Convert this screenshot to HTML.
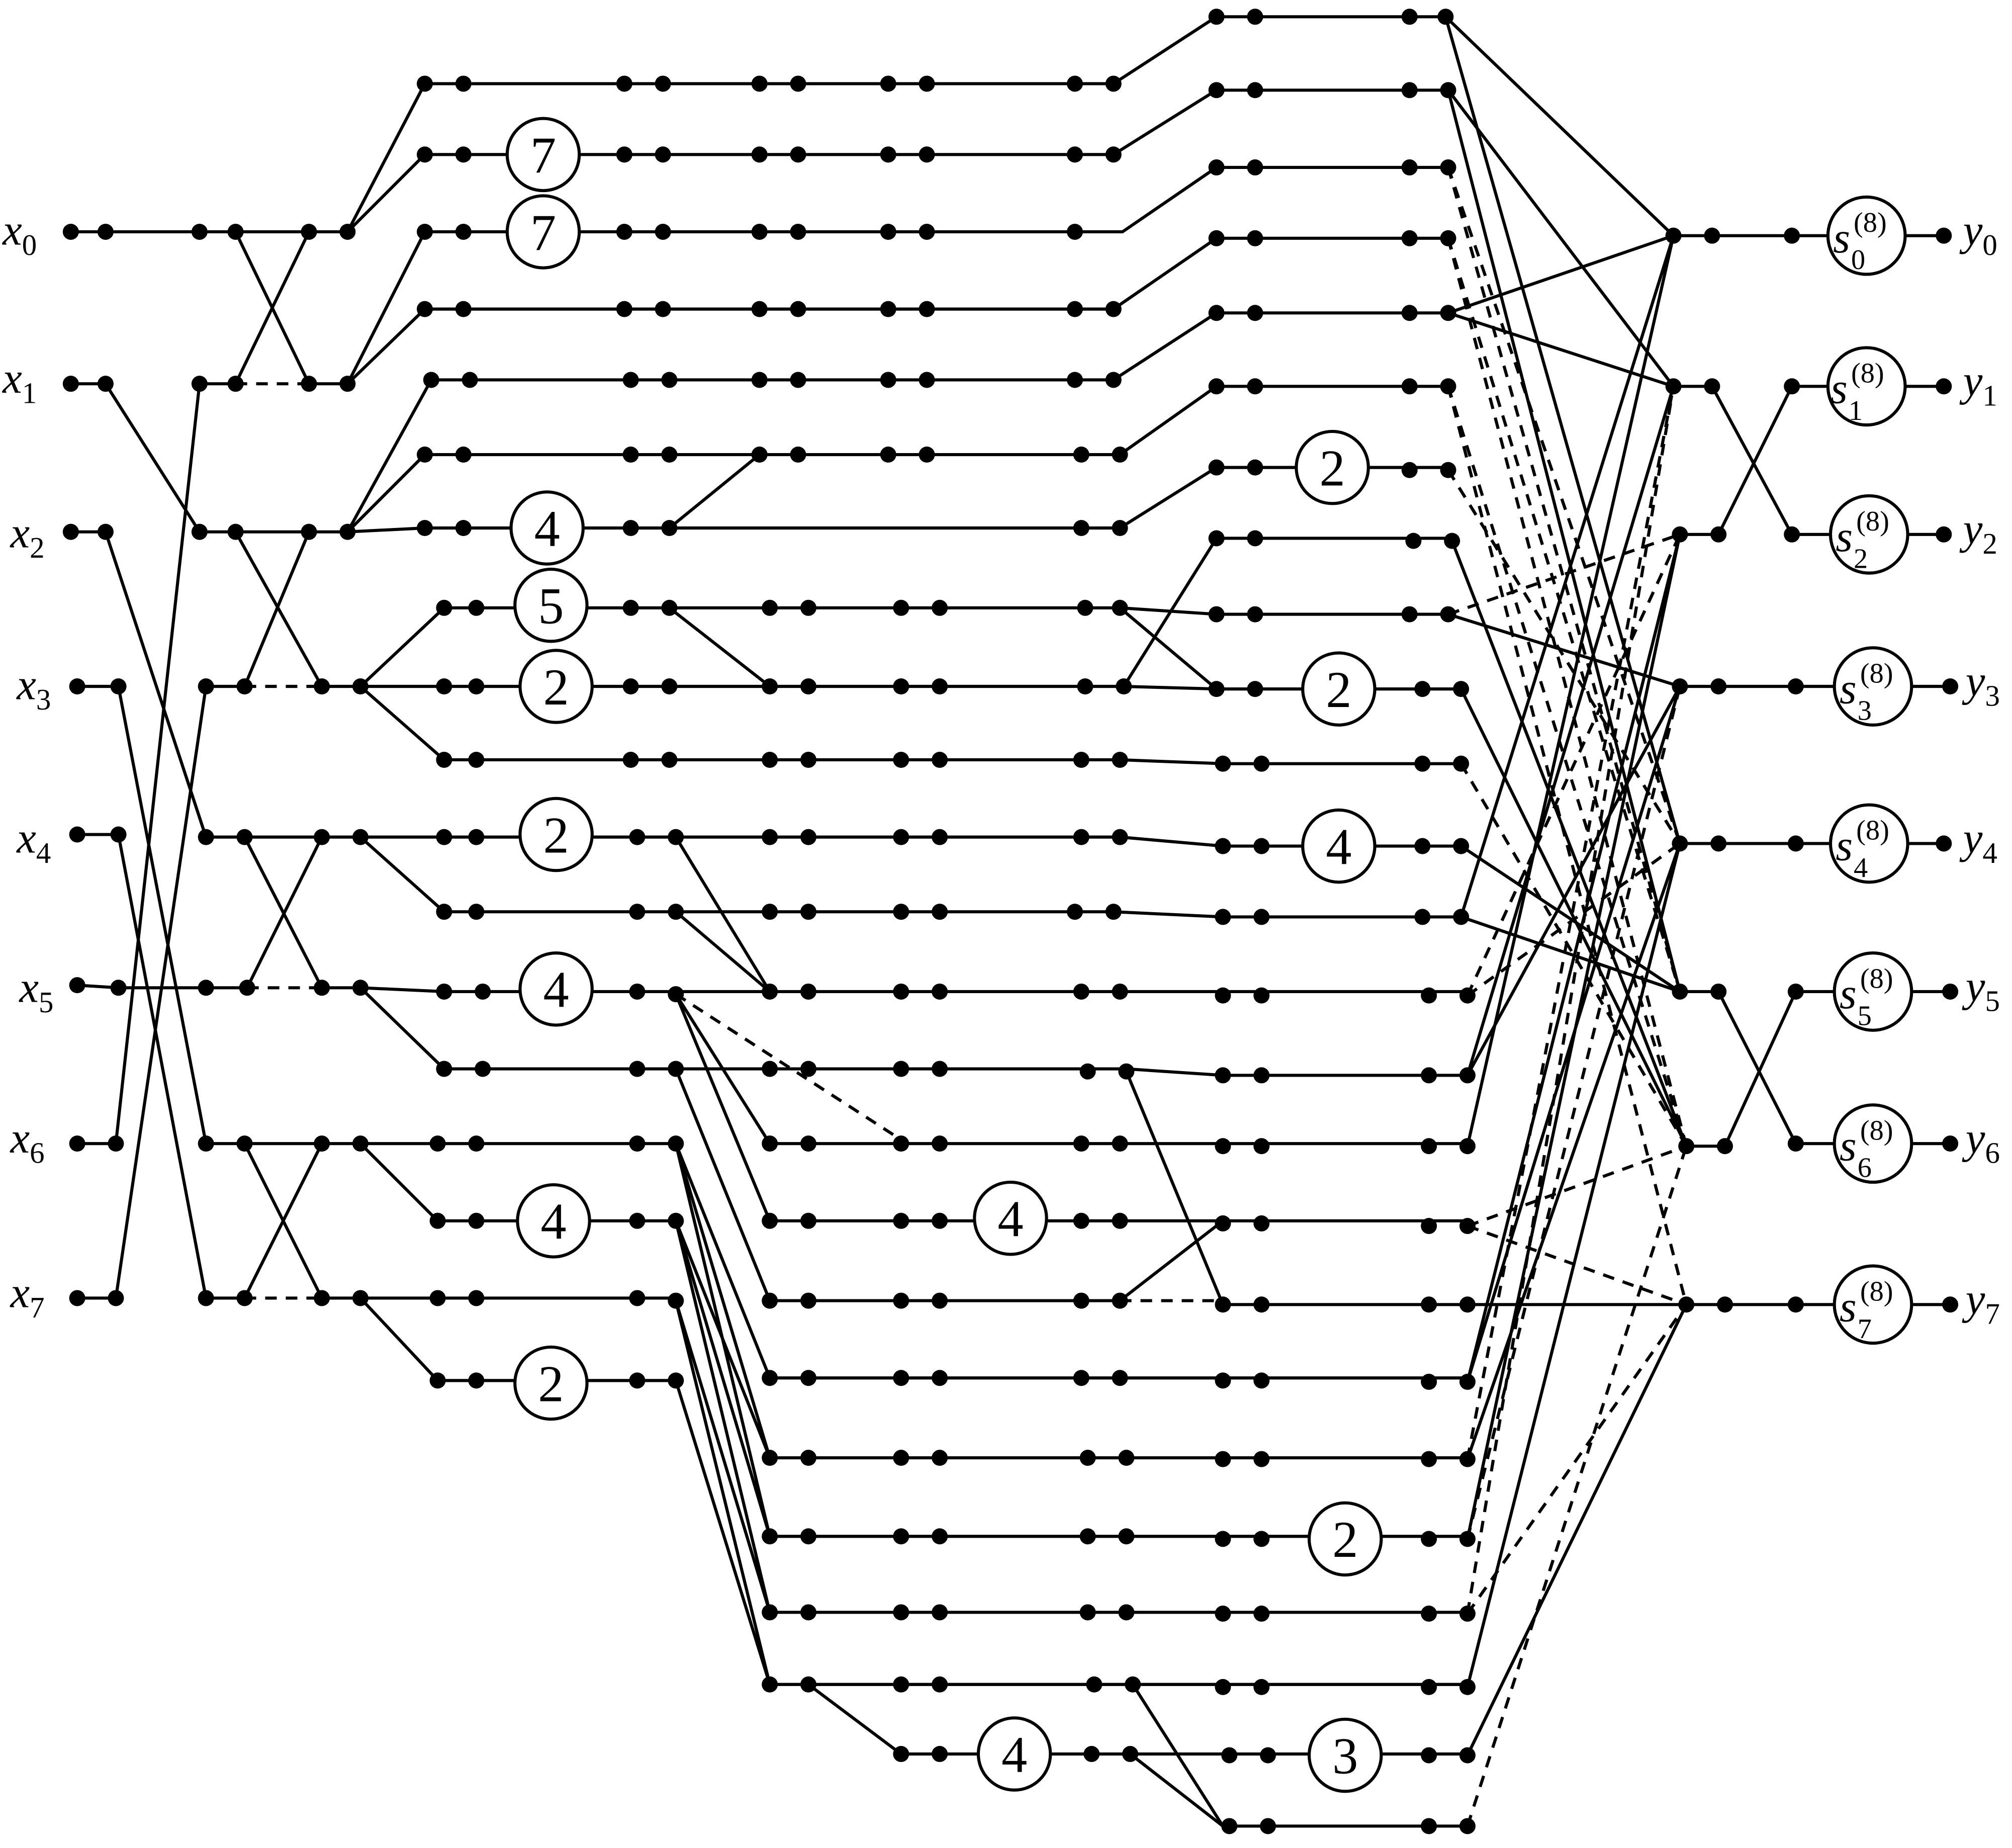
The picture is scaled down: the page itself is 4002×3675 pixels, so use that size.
<!DOCTYPE html>
<html><head><meta charset="utf-8"><style>html,body{margin:0;padding:0;background:#fff}svg{display:block}</style></head><body>
<svg xmlns="http://www.w3.org/2000/svg" width="4002" height="3675" viewBox="0 0 1563 1435" preserveAspectRatio="none">
<rect width="1563" height="1435" fill="#fff"/>
<g fill="none" stroke="#000" stroke-width="2.4">
<path d="M55 180H270M55 298H82L155 413M55 413H82L160 650M60 533H92L160 888M60 648H92L160 1008M60 765L92 767H192M60 888H90L155 298M60 1008H90L160 533"/>
<path d="M155 298H183M240 298H270M155 413H270M160 533H190M250 533H280M160 650H280M250 767H280M160 888H280M160 1008H190M250 1008H280"/>
<path d="M183 180L240 298M183 298L240 180M183 413L250 533M190 533L240 413M190 650L250 767M192 767L250 650M190 888L250 1008M190 1008L250 888"/>
<path d="M270 180L330 65M270 180L330 120M270 298L330 180M270 298L330 240M270 413L335 295M270 413L330 353M270 413L330 410M280 533L345 472M280 533L345 533M280 533L345 590M280 650L345 650M280 650L345 708M280 767L345 770M280 767L345 830M280 888L340 888M280 888L340 948M280 1008L340 1008M280 1008L340 1072"/>
<path d="M330 65H865L945 13H1123M330 120H865L945 70H1125M330 180H872L945 130H1125M330 240H865L945 185H1125M335 295H865L945 243H1125M330 353H870L945 300H1125M330 410H870L945 363H1125M520 410L590 353"/>
<path d="M345 472H870L945 477H1125M520 472L598 533M870 472L945 535M345 533H873L945 535H1135M873 533L945 418H1128M345 590H870L950 593H1135M345 650H870L950 657H1135M525 650L598 770M345 708H865L950 712H1135M525 708L598 770"/>
<path d="M345 770H1140M525 772L598 888M525 772L598 948M345 830H875L950 835H1140M525 830L598 1010M875 832L950 1013"/>
<path d="M340 888H525M340 948H525M340 1008H525M340 1072H525M598 888H1140M598 948H1140M870 1010L950 948M598 1010H870M950 1013H1140M598 1070H1140M598 1132H1140M598 1193H1140M598 1252H1140M598 1308H1140M880 1308L950 1418M628 1308L700 1362H1140M878 1362L950 1418M950 1418H1140"/>
<path d="M525 888L598 1070M525 888L598 1132M525 888L598 1193M525 948L598 1132M525 948L598 1193M525 948L598 1252M525 1010L598 1252M525 1010L598 1308M525 1072L598 1308"/>
<path d="M1123 13L1300 183M1123 13L1305 655M1125 70L1300 300M1125 70L1305 770M1125 243L1300 183M1125 243L1300 300M1128 420L1310 890M1125 477L1305 533M1135 535L1310 890M1135 657L1305 770M1135 712L1300 183M1135 712L1305 770M1140 835L1305 533M1140 890L1300 183M1140 1013L1310 1013M1140 1073L1305 415M1140 1073L1305 533M1140 1195L1305 415M1140 1310L1305 655M1140 1363L1310 1013M1140 1133L1305 655M1140 835L1300 300"/>
<path d="M1300 183H1510M1300 300H1330L1392 415H1510M1305 415H1335L1392 300H1510M1305 533H1515M1305 655H1510M1305 770H1335L1395 888H1515M1310 890H1340L1395 770H1515M1310 1013H1515"/>
</g>
<g fill="none" stroke="#000" stroke-width="2.4" stroke-dasharray="9,7">
<path d="M183 298H240M190 533H250M192 767H250M190 1008H250M525 772L700 885M870 1010H950"/>
<path d="M1125 130L1305 655M1125 130L1305 770M1125 185L1305 770M1125 185L1310 890M1125 300L1310 890M1125 300L1310 1013M1125 365L1305 655M1125 477L1305 415M1135 593L1310 890M1140 773L1305 655M1140 773L1305 415M1140 952L1310 890M1140 952L1310 1013M1140 1133L1300 300M1140 1253L1310 1013M1140 1253L1300 300M1140 1418L1310 890M1140 1195L1305 533"/>
</g>
<g fill="none" stroke="#000" stroke-width="12.5" stroke-linecap="round">
<path d="M55 180h0M82 180h0M55 298h0M82 298h0M55 413h0M82 413h0M60 533h0M92 533h0M60 648h0M92 648h0M60 765h0M92 767h0M60 888h0M90 888h0M60 1008h0M90 1008h0M155 180h0M183 180h0M240 180h0M270 180h0M155 298h0M183 298h0M240 298h0M270 298h0M155 413h0M183 413h0M240 413h0M270 413h0M160 533h0M190 533h0M250 533h0M280 533h0M160 650h0M190 650h0M250 650h0M280 650h0M160 767h0M192 767h0M250 767h0M280 767h0M160 888h0M190 888h0M250 888h0M280 888h0M160 1008h0M190 1008h0M250 1008h0M280 1008h0"/>
<path d="M330 65h0M360 65h0M485 65h0M515 65h0M590 65h0M620 65h0M690 65h0M720 65h0M835 65h0M865 65h0M945 13h0M975 13h0M1095 13h0M1123 13h0
M330 120h0M360 120h0M485 120h0M515 120h0M590 120h0M620 120h0M690 120h0M720 120h0M835 120h0M865 120h0M945 70h0M975 70h0M1095 70h0M1125 70h0
M330 180h0M360 180h0M485 180h0M515 180h0M590 180h0M620 180h0M690 180h0M720 180h0M835 180h0M945 130h0M975 130h0M1095 130h0M1125 130h0
M330 240h0M360 240h0M485 240h0M515 240h0M590 240h0M620 240h0M690 240h0M720 240h0M835 240h0M865 240h0M945 185h0M975 185h0M1095 185h0M1125 185h0
M335 295h0M365 295h0M490 295h0M520 295h0M590 295h0M620 295h0M690 295h0M720 295h0M835 295h0M865 295h0M945 243h0M975 243h0M1095 243h0M1125 243h0
M330 353h0M360 353h0M490 353h0M520 353h0M590 353h0M620 353h0M690 353h0M720 353h0M840 353h0M870 353h0M945 300h0M975 300h0M1095 300h0M1125 300h0
M330 410h0M360 410h0M490 410h0M520 410h0M840 410h0M870 410h0M945 363h0M975 363h0M1095 365h0M1125 365h0M945 418h0M975 418h0M1098 420h0M1128 420h0"/>
<path d="M345 472h0M370 472h0M490 472h0M520 472h0M598 472h0M628 472h0M700 472h0M730 472h0M843 472h0M870 472h0M945 477h0M975 477h0M1095 477h0M1125 477h0
M345 533h0M370 533h0M490 533h0M520 533h0M598 533h0M628 533h0M700 533h0M730 533h0M843 533h0M873 533h0M945 535h0M975 535h0M1105 535h0M1135 535h0
M345 590h0M370 590h0M490 590h0M520 590h0M598 590h0M628 590h0M700 590h0M730 590h0M840 590h0M870 590h0M950 593h0M980 593h0M1105 593h0M1135 593h0
M345 650h0M370 650h0M495 650h0M525 650h0M598 650h0M628 650h0M700 650h0M730 650h0M840 650h0M870 650h0M950 657h0M980 657h0M1105 657h0M1135 657h0
M345 708h0M370 708h0M495 708h0M525 708h0M598 708h0M628 708h0M700 708h0M730 708h0M835 708h0M865 708h0M950 712h0M980 712h0M1105 712h0M1135 712h0
M345 770h0M375 770h0M495 770h0M525 772h0M598 770h0M628 770h0M700 770h0M730 770h0M840 770h0M870 770h0M950 773h0M980 773h0M1110 773h0M1140 773h0
M345 830h0M375 830h0M495 830h0M525 830h0M598 830h0M628 830h0M700 830h0M730 830h0M845 832h0M875 832h0M950 835h0M980 835h0M1110 835h0M1140 835h0"/>
<path d="M340 888h0M370 888h0M495 888h0M525 888h0M340 948h0M370 948h0M495 948h0M525 948h0M340 1008h0M370 1008h0M495 1008h0M525 1010h0M340 1072h0M370 1072h0M495 1072h0M525 1072h0
M598 888h0M628 888h0M700 888h0M730 888h0M840 888h0M870 888h0M950 890h0M980 890h0M1110 890h0M1140 890h0
M598 948h0M628 948h0M700 948h0M730 948h0M840 948h0M870 948h0M950 950h0M980 950h0M1110 952h0M1140 952h0
M598 1010h0M628 1010h0M700 1010h0M730 1010h0M840 1010h0M870 1010h0M950 1013h0M980 1013h0M1110 1013h0M1140 1013h0
M598 1070h0M628 1070h0M700 1070h0M730 1070h0M840 1070h0M870 1070h0M950 1072h0M980 1072h0M1110 1073h0M1140 1073h0
M598 1132h0M628 1132h0M700 1132h0M730 1132h0M845 1132h0M875 1132h0M950 1133h0M980 1133h0M1110 1133h0M1140 1133h0
M598 1193h0M628 1193h0M700 1193h0M730 1193h0M845 1193h0M875 1193h0M950 1195h0M980 1195h0M1110 1195h0M1140 1195h0
M598 1252h0M628 1252h0M700 1252h0M730 1252h0M845 1252h0M875 1252h0M950 1253h0M980 1253h0M1110 1253h0M1140 1253h0
M598 1308h0M628 1308h0M700 1308h0M730 1308h0M850 1308h0M880 1308h0M950 1310h0M980 1310h0M1110 1310h0M1140 1310h0
M700 1362h0M730 1362h0M848 1362h0M878 1362h0M955 1363h0M985 1363h0M1110 1363h0M1140 1363h0
M955 1418h0M985 1418h0M1110 1418h0M1140 1418h0"/>
<path d="M1300 183h0M1330 183h0M1392 183h0M1510 183h0M1300 300h0M1330 300h0M1392 300h0M1510 300h0M1305 415h0M1335 415h0M1392 415h0M1510 415h0M1305 533h0M1335 533h0M1395 533h0M1515 533h0M1305 655h0M1335 655h0M1395 655h0M1510 655h0M1305 770h0M1335 770h0M1395 770h0M1515 770h0M1310 890h0M1340 890h0M1395 888h0M1515 888h0M1310 1013h0M1340 1013h0M1395 1013h0M1515 1013h0"/>
</g>
<g fill="#fff" stroke="#000" stroke-width="2.4">
<circle cx="422" cy="120" r="28"/><circle cx="422" cy="180" r="28"/><circle cx="425" cy="410" r="28"/><circle cx="428" cy="470" r="28"/><circle cx="432" cy="533" r="28"/><circle cx="432" cy="648" r="28"/><circle cx="432" cy="768" r="28"/><circle cx="430" cy="948" r="28"/><circle cx="428" cy="1074" r="28"/><circle cx="785" cy="946" r="28"/><circle cx="788" cy="1362" r="28"/><circle cx="1035" cy="363" r="28"/><circle cx="1040" cy="535" r="28"/><circle cx="1040" cy="657" r="28"/><circle cx="1045" cy="1195" r="28"/><circle cx="1045" cy="1363" r="28"/>
<circle cx="1450" cy="183" r="30"/><circle cx="1450" cy="300" r="30"/><circle cx="1452" cy="415" r="30"/><circle cx="1455" cy="533" r="30"/><circle cx="1452" cy="655" r="30"/><circle cx="1455" cy="770" r="30"/><circle cx="1455" cy="888" r="30"/><circle cx="1455" cy="1013" r="30"/>
</g>
<g font-family="&quot;Liberation Serif&quot;, serif" font-size="40" text-anchor="middle" fill="#000">
<text x="422" y="134">7</text><text x="422" y="194">7</text><text x="425" y="424">4</text><text x="428" y="484">5</text><text x="432" y="547">2</text><text x="432" y="662">2</text><text x="432" y="782">4</text><text x="430" y="962">4</text><text x="428" y="1088">2</text><text x="785" y="960">4</text><text x="788" y="1376">4</text><text x="1035" y="377">2</text><text x="1040" y="549">2</text><text x="1040" y="671">4</text><text x="1045" y="1209">2</text><text x="1045" y="1377">3</text>
</g>
<g font-family="&quot;Liberation Serif&quot;, serif" fill="#000">
<g font-size="34" font-style="italic">
<text x="2" y="190">x<tspan font-size="23" font-style="normal" dy="8">0</tspan></text>
<text x="2" y="305">x<tspan font-size="23" font-style="normal" dy="8">1</tspan></text>
<text x="8" y="425">x<tspan font-size="23" font-style="normal" dy="8">2</tspan></text>
<text x="13" y="543">x<tspan font-size="23" font-style="normal" dy="8">3</tspan></text>
<text x="13" y="662">x<tspan font-size="23" font-style="normal" dy="8">4</tspan></text>
<text x="15" y="778">x<tspan font-size="23" font-style="normal" dy="8">5</tspan></text>
<text x="8" y="895">x<tspan font-size="23" font-style="normal" dy="8">6</tspan></text>
<text x="8" y="1015">x<tspan font-size="23" font-style="normal" dy="8">7</tspan></text>
<text x="1525" y="190">y<tspan font-size="23" font-style="normal" dy="8">0</tspan></text>
<text x="1525" y="307">y<tspan font-size="23" font-style="normal" dy="8">1</tspan></text>
<text x="1525" y="422">y<tspan font-size="23" font-style="normal" dy="8">2</tspan></text>
<text x="1527" y="540">y<tspan font-size="23" font-style="normal" dy="8">3</tspan></text>
<text x="1525" y="662">y<tspan font-size="23" font-style="normal" dy="8">4</tspan></text>
<text x="1527" y="777">y<tspan font-size="23" font-style="normal" dy="8">5</tspan></text>
<text x="1527" y="895">y<tspan font-size="23" font-style="normal" dy="8">6</tspan></text>
<text x="1527" y="1020">y<tspan font-size="23" font-style="normal" dy="8">7</tspan></text>
</g>
<g font-size="22">
<text x="1424" y="196" font-size="34" font-style="italic">s</text><text x="1438" y="209">0</text><text x="1440" y="180">(8)</text>
<text x="1422" y="313" font-size="34" font-style="italic">s</text><text x="1436" y="326">1</text><text x="1438" y="297">(8)</text>
<text x="1426" y="428" font-size="34" font-style="italic">s</text><text x="1440" y="441">2</text><text x="1442" y="412">(8)</text>
<text x="1429" y="546" font-size="34" font-style="italic">s</text><text x="1443" y="559">3</text><text x="1445" y="530">(8)</text>
<text x="1426" y="668" font-size="34" font-style="italic">s</text><text x="1440" y="681">4</text><text x="1442" y="652">(8)</text>
<text x="1429" y="783" font-size="34" font-style="italic">s</text><text x="1443" y="796">5</text><text x="1445" y="767">(8)</text>
<text x="1429" y="901" font-size="34" font-style="italic">s</text><text x="1443" y="914">6</text><text x="1445" y="885">(8)</text>
<text x="1429" y="1026" font-size="34" font-style="italic">s</text><text x="1443" y="1039">7</text><text x="1445" y="1010">(8)</text>
</g>
</g>
</svg>
</body></html>
